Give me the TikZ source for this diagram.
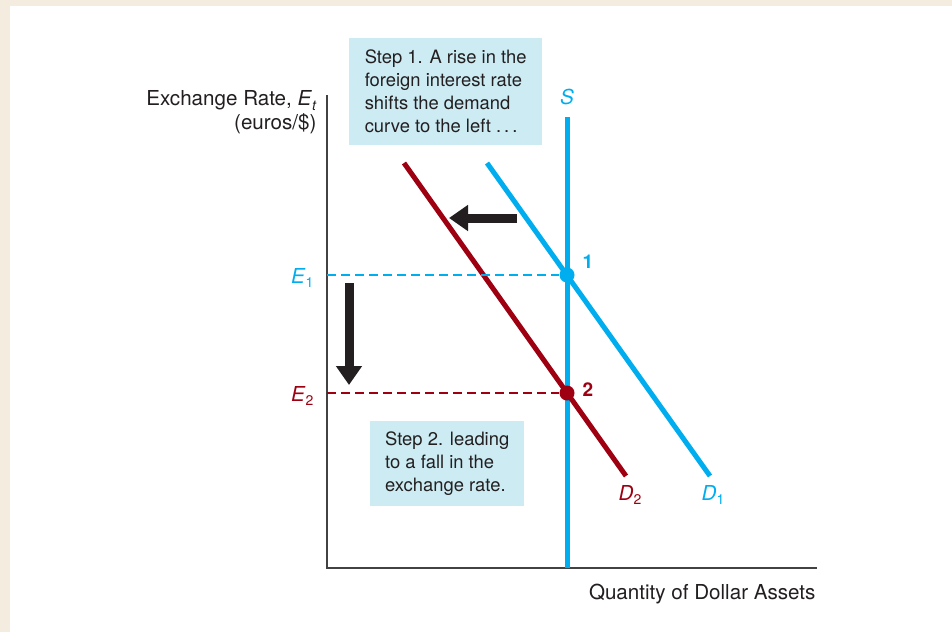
\documentclass[tikz,border=0pt]{standalone}
\usepackage{fontspec}
\setmainfont{TeX Gyre Heros}
\usetikzlibrary{arrows.meta}
\definecolor{paper}{RGB}{244,236,222}
\definecolor{supplycol}{RGB}{0,174,239}
\definecolor{demandcol}{RGB}{158,0,18}
\definecolor{notefill}{RGB}{204,235,243}
\definecolor{inkcol}{RGB}{35,31,32}
\newcommand{\lowidx}[1]{\raisebox{-0.45ex}{\fontsize{14}{14}\selectfont #1}}
\begin{document}
\begin{tikzpicture}[
  x=1pt, y=-1pt,
  every node/.style={font=\fontsize{18.4}{23}\selectfont, text=inkcol},
  biglabel/.style={font=\fontsize{20.6}{24}\selectfont},
  axisline/.style={draw=inkcol!85, line width=1.4pt},
  curve/.style={line width=5pt},
  guide/.style={line width=1.3pt, dash pattern=on 9pt off 5pt},
  notebox/.style={fill=notefill, align=left, inner xsep=15pt, anchor=north west},
  dot/.style={circle, inner sep=0pt, minimum size=15pt},
  shiftarrow/.style={draw=inkcol, line width=9pt, -{Triangle[width=25pt, length=19pt]}}
]
\useasboundingbox[fill=paper] (0,0) rectangle (952,632);
\fill[white] (10,6) rectangle (952,632);
% axes
\coordinate (origin) at (327,568);
\coordinate (ytop) at (327,95);
\coordinate (xend) at (817,568);
\draw[axisline] (ytop) -- (origin) -- (xend);
\node[biglabel, align=right, anchor=east] (ylabel) at (320,112) {Exchange Rate, \textit{E}\lowidx{\textit{t}}\\(euros/\$)};
\node[biglabel, anchor=east] (xlabel) at (819,594) {Quantity of Dollar Assets};
% supply and demand
\coordinate (stop) at (567,117);
\coordinate (sbot) at (567,568);
\coordinate (d1top) at (487,163);
\coordinate (d1bot) at (710,476);
\coordinate (d2top) at (404,163);
\coordinate (d2bot) at (626,476);
\draw[curve, supplycol] (stop) -- (sbot);
\draw[curve, supplycol] (d1top) -- (d1bot);
\draw[curve, demandcol] (d2top) -- (d2bot);
\node[biglabel, text=supplycol] (slabel) at (567,97) {\textit{S}};
\node[biglabel, text=supplycol] (d1label) at (713,495) {\textit{D}\lowidx{1}};
\node[biglabel, text=demandcol] (d2label) at (630,495) {\textit{D}\lowidx{2}};
% equilibria
\node[dot, fill=supplycol] (eq1) at (567,275) {};
\node[dot, fill=demandcol] (eq2) at (567,393) {};
\node[text=supplycol, font=\fontsize{19}{23}\selectfont\bfseries] (eq1label) at (588,262) {1};
\node[text=demandcol, font=\fontsize{19}{23}\selectfont\bfseries] (eq2label) at (588,390) {2};
\coordinate (e1axis) at (327,275);
\coordinate (e2axis) at (327,393);
\draw[guide, supplycol] (e1axis) -- (eq1);
\draw[guide, demandcol] (e2axis) -- (eq2);
\node[biglabel, text=supplycol, anchor=east] (e1label) at (317,278) {\textit{E}\lowidx{1}};
\node[biglabel, text=demandcol, anchor=east] (e2label) at (317,396) {\textit{E}\lowidx{2}};
% shifts
\coordinate (leftfrom) at (517,218);
\coordinate (leftto) at (449,218);
\coordinate (downfrom) at (349,283);
\coordinate (downto) at (349,385);
\draw[shiftarrow] (leftfrom) -- (leftto);
\draw[shiftarrow] (downfrom) -- (downto);
% notes
\node[notebox, minimum width=193pt, minimum height=107pt] (step1) at (349,38) {Step 1. A rise in the\\foreign interest rate\\shifts the demand\\curve to the left .\,.\,.};
\node[notebox, minimum width=153pt, minimum height=85pt] (step2) at (370,421) {Step 2. leading\\to a fall in the\\exchange rate.};
\end{tikzpicture}
\end{document}
